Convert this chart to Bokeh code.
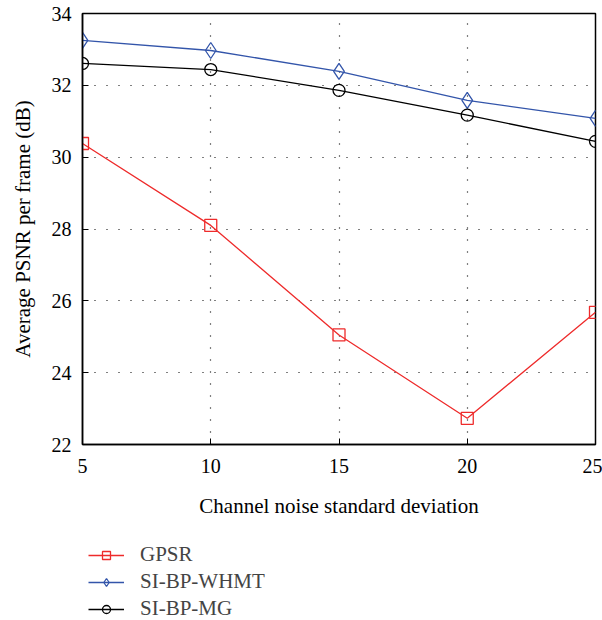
from bokeh.plotting import figure
from bokeh.layouts import column
from bokeh.models import Range1d, Legend, LegendItem, FixedTicker
from bokeh.embed import file_html
from bokeh.resources import INLINE

x_vals = [5, 10, 15, 20, 25]
gpsr = [30.38, 28.10, 25.05, 22.73, 25.68]
whmt = [33.25, 32.97, 32.39, 31.58, 31.08]
mg = [32.61, 32.44, 31.86, 31.17, 30.44]
series_names = ["GPSR", "SI-BP-WHMT", "SI-BP-MG"]
x_ticks = [5, 10, 15, 20, 25]
y_ticks = [22, 24, 26, 28, 30, 32, 34]

FONT = "Liberation Serif"
COLORS = ["#ee2b2b", "#3355aa", "black"]
MARKERS = ["square", "diamond", "circle"]
SIZES = [12, 16, 12]
SERIES = [gpsr, whmt, mg]

p = figure(width=602, height=520, output_backend="svg", toolbar_location=None,
           x_range=Range1d(5, 25), y_range=Range1d(22, 34),
           min_border_left=82, min_border_right=7, min_border_top=13, min_border_bottom=75)
p.background_fill_color = "white"
p.border_fill_color = "white"
p.outline_line_color = "black"
p.outline_line_width = 1.5

for ax in (p.xaxis[0], p.yaxis[0]):
    ax.major_tick_in = 6
    ax.major_tick_out = 0
    ax.minor_tick_in = 0
    ax.minor_tick_out = 0
    ax.axis_line_color = "black"
    ax.axis_line_width = 1.5
    ax.major_label_text_font = FONT
    ax.major_label_text_font_size = "20px"
    ax.major_label_text_color = "black"
    ax.axis_label_text_font = FONT
    ax.axis_label_text_font_size = "21px"
    ax.axis_label_text_font_style = "normal"
    ax.axis_label_text_color = "black"

p.xaxis[0].ticker = FixedTicker(ticks=x_ticks)
p.yaxis[0].ticker = FixedTicker(ticks=y_ticks)
p.xaxis[0].axis_label = "Channel noise standard deviation"
p.yaxis[0].axis_label = "Average PSNR per frame (dB)"
p.xaxis[0].major_label_standoff = 14
p.xaxis[0].axis_label_standoff = 18
p.yaxis[0].major_label_standoff = 11
p.yaxis[0].axis_label_standoff = 14

p.xgrid.ticker = FixedTicker(ticks=x_ticks)
p.ygrid.ticker = FixedTicker(ticks=y_ticks)
for g in (p.xgrid[0], p.ygrid[0]):
    g.grid_line_color = "black"
    g.grid_line_dash = "1 11"
    g.grid_line_width = 1.2

for ys, c, mk, sz in zip(SERIES, COLORS, MARKERS, SIZES):
    p.line(x_vals, ys, line_color=c, line_width=1.3)
    p.scatter(x_vals, ys, marker=mk, size=sz, line_color=c, fill_color=None, line_width=1.3)

# legend panel below the chart (same series, plotted out of view so only the keys show)
q = figure(width=602, height=100, output_backend="svg", toolbar_location=None,
           x_range=Range1d(5, 25), y_range=Range1d(100, 101),
           min_border=0, min_border_left=0, min_border_right=0,
           min_border_top=0, min_border_bottom=0)
q.axis.visible = False
q.grid.visible = False
q.outline_line_color = None
q.background_fill_color = "white"
q.border_fill_color = "white"

items = []
for name, ys, c, mk, sz in zip(series_names, SERIES, COLORS, MARKERS, SIZES):
    rl = q.line(x_vals, ys, line_color=c, line_width=1.3)
    rm = q.scatter(x_vals, ys, marker=mk, size=sz, line_color=c, fill_color=None, line_width=1.3)
    items.append(LegendItem(label=name, renderers=[rl, rm]))

legend = Legend(items=items, location=(6, -1), orientation="vertical")
legend.border_line_color = None
legend.background_fill_alpha = 0
legend.label_text_font = FONT
legend.label_text_font_size = "21px"
legend.glyph_width = 36
legend.glyph_height = 20
legend.label_standoff = 16
legend.spacing = 2
legend.padding = 0
legend.margin = 0
legend.label_height = 20
q.add_layout(legend, "center")

layout = column(p, q, spacing=0)
out = file_html(layout, INLINE)
open("out.html", "w").write(out)
